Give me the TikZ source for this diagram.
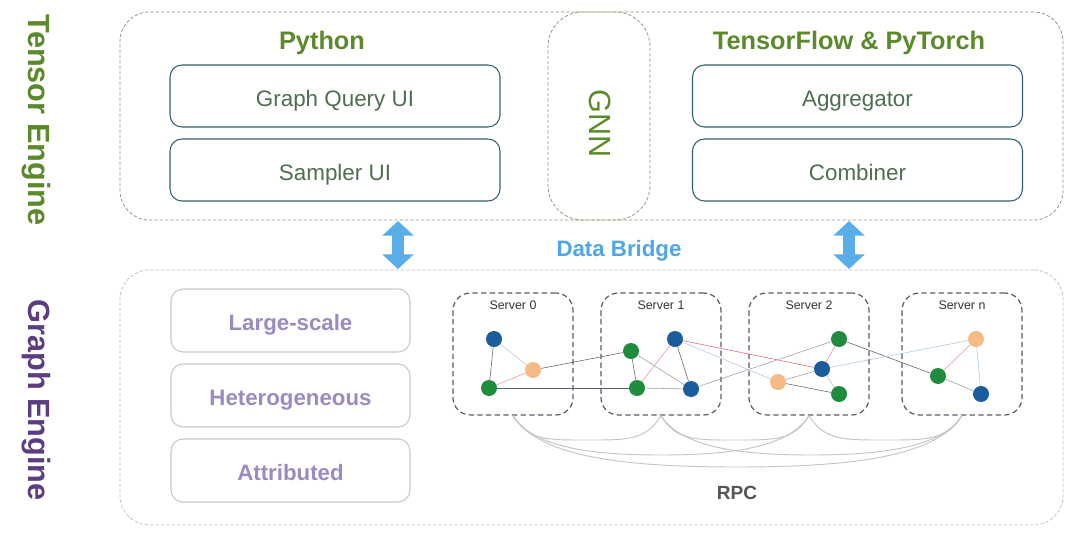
\documentclass[tikz,border=0pt]{standalone}
\usepackage{fontspec}
\setmainfont{Liberation Sans}
\usetikzlibrary{backgrounds,arrows.meta}
\definecolor{tgreen}{HTML}{5B8A2A}
\definecolor{boxteal}{HTML}{2F5F6E}
\definecolor{uitext}{HTML}{4F6E50}
\definecolor{tdash}{HTML}{8E9C80}
\definecolor{gdash}{HTML}{C4BCD8}
\definecolor{gpurple}{HTML}{5B3D80}
\definecolor{lpurple}{HTML}{9C8AC2}
\definecolor{lgrey}{HTML}{C8C8C8}
\definecolor{bridge}{HTML}{4EA5EC}
\definecolor{arrowblue}{HTML}{5AAEE8}
\definecolor{nblue}{HTML}{1B5C9C}
\definecolor{ngreen}{HTML}{1E8C3C}
\definecolor{norange}{HTML}{F6BA84}
\definecolor{edark}{HTML}{5A5A6A}
\definecolor{egrey}{HTML}{9A9AA4}
\definecolor{epink}{HTML}{E09098}
\definecolor{ered}{HTML}{E06070}
\definecolor{elblue}{HTML}{A8C4DC}
\definecolor{rpcgrey}{HTML}{C4C4C4}
\definecolor{rpctext}{HTML}{555555}
\tikzset{
  outerbox/.style={draw=#1, dashed, dash pattern=on 2.5pt off 1.5pt, line width=0.6pt, rounded corners=22pt, minimum width=707.25pt, inner sep=0pt},
  uibox/.style={draw=boxteal, line width=0.8pt, rounded corners=9pt, minimum width=247.5pt, minimum height=46.5pt, text=uitext, font=\fontsize{16.8}{20}\selectfont, text height=15.6pt, text depth=0pt},
  featbox/.style={draw=lgrey, line width=0.8pt, rounded corners=9pt, minimum width=179.25pt, minimum height=47.25pt, text=lpurple, font=\bfseries\fontsize{16.7}{20}\selectfont, text height=15.6pt, text depth=0pt},
  serverbox/.style={draw=edark, dashed, dash pattern=on 4pt off 2.5pt, line width=0.9pt, rounded corners=13pt, minimum width=90pt, minimum height=91.5pt},
  srvlabel/.style={font=\fontsize{9.3}{11}\selectfont, text=black!80},
  vtx/.style={circle, fill=#1, minimum size=12pt, inner sep=0pt},
  heading/.style={font=\bfseries\fontsize{19}{22}\selectfont, text=tgreen, text height=13.7pt, text depth=0pt},
  vlabel/.style={rotate=-90, font=\bfseries\fontsize{23}{27}\selectfont},
  rpc/.style={draw=rpcgrey, line width=0.7pt},
}
\begin{document}
\begin{tikzpicture}[x=0.75pt,y=-0.75pt]
\useasboundingbox (0,0) rectangle (1080,535);

% Tensor engine
\node[outerbox=tdash, minimum height=156pt] (tensor) at (591.5,116) {};
\node[draw=tdash, dashed, dash pattern=on 2.5pt off 1.5pt, line width=0.6pt, rounded corners=26pt, minimum width=76.5pt, minimum height=156pt] (gnnbox) at (599,116) {};
\node[rotate=-90, font=\fontsize{23}{27}\selectfont, text=tgreen] (gnn) at (600,123.5) {GNN};
\node[vlabel, text=tgreen] (tlabel) at (36,120) {Tensor Engine};
\node[heading] (python) at (322,40) {Python};
\node[heading] (tfpt) at (849,40) {TensorFlow \& PyTorch};
\node[uibox] (gq) at (335,96) {Graph Query UI};
\node[uibox] (samp) at (335,170) {Sampler UI};
\node[uibox] (agg) at (857.5,96) {Aggregator};
\node[uibox] (comb) at (857.5,170) {Combiner};

% Data bridge
\coordinate (b1t) at (398,221);
\coordinate (b1b) at (398,269);
\coordinate (b2t) at (849,221);
\coordinate (b2b) at (849,269);
\draw[arrowblue, line width=9pt, {Triangle[width=23pt,length=11pt]}-{Triangle[width=23pt,length=11pt]}] (b1t) -- (b1b);
\draw[arrowblue, line width=9pt, {Triangle[width=23pt,length=11pt]}-{Triangle[width=23pt,length=11pt]}] (b2t) -- (b2b);
\node[font=\bfseries\fontsize{16.7}{20}\selectfont, text=bridge, text height=12pt, text depth=0pt] (db) at (619,248) {Data Bridge};

% Graph engine
\node[outerbox=gdash, minimum height=191.25pt] (graph) at (591.5,397.5) {};
\node[vlabel, text=gpurple] (glabel) at (36,400) {Graph Engine};
\node[featbox] (ls) at (290.5,320.5) {Large-scale};
\node[featbox] (het) at (290.5,395.5) {Heterogeneous};
\node[featbox] (attr) at (290.5,470.5) {Attributed};

% Servers
\node[serverbox] (s0) at (513,354) {};
\node[serverbox] (s1) at (661,354) {};
\node[serverbox] (s2) at (809,354) {};
\node[serverbox] (sn) at (962,354) {};
\node[srvlabel] at (513,305) {Server 0};
\node[srvlabel] at (661,305) {Server 1};
\node[srvlabel] at (809,305) {Server 2};
\node[srvlabel] at (962,305) {Server n};

% vertices
\node[vtx=nblue] (a1) at (494,339) {};
\node[vtx=norange] (a2) at (533,370) {};
\node[vtx=ngreen] (a3) at (489,388) {};
\node[vtx=ngreen] (b1) at (631,351) {};
\node[vtx=nblue] (b2) at (675,339) {};
\node[vtx=ngreen] (b3) at (637,388) {};
\node[vtx=nblue] (b4) at (691,389) {};
\node[vtx=ngreen] (c1) at (839,339) {};
\node[vtx=nblue] (c2) at (822,369) {};
\node[vtx=norange] (c3) at (778,382) {};
\node[vtx=ngreen] (c4) at (839,394) {};
\node[vtx=norange] (d1) at (976,339) {};
\node[vtx=ngreen] (d2) at (938,376) {};
\node[vtx=nblue] (d3) at (981,394) {};

\begin{scope}[on background layer, line width=0.7pt]
\draw[edark] (a1) -- (a3);
\draw[elblue] (a1) -- (a2);
\draw[epink] (a2) -- (a3);
\draw[edark] (a3) -- (b3);
\draw[edark] (a2) -- (b1);
\draw[edark] (b1) -- (b3);
\draw[egrey] (b1) -- (b4);
\draw[epink] (b2) -- (b3);
\draw[edark] (b2) -- (b4);
\draw[egrey] (b3) -- (b4);
\draw[ered] (b2) -- (c2);
\draw[elblue] (b2) -- (c3);
\draw[egrey] (b4) -- (c1);
\draw[egrey] (c3) -- (c2);
\draw[edark] (c3) -- (c4);
\draw[epink] (c2) -- (c1);
\draw[elblue] (c2) -- (c4);
\draw[edark] (c1) -- (d2);
\draw[elblue] (c2) -- (d1);
\draw[epink] (d1) -- (d2);
\draw[elblue] (d1) -- (d3);
\draw[egrey] (d2) -- (d3);
\end{scope}

% RPC arcs
\draw[rpc] (s0.south) .. controls +(15,25) and +(-40,0) .. (587,440) .. controls +(40,0) and +(-15,25) .. (s1.south);
\draw[rpc] (s1.south) .. controls +(15,25) and +(-40,0) .. (735,440) .. controls +(40,0) and +(-15,25) .. (s2.south);
\draw[rpc] (s2.south) .. controls +(15,25) and +(-40,0) .. (885,440) .. controls +(40,0) and +(-15,25) .. (sn.south);
\draw[rpc] (s0.south) .. controls +(20,32) and +(-70,0) .. (661,455) .. controls +(70,0) and +(-20,32) .. (s2.south);
\draw[rpc] (s1.south) .. controls +(20,32) and +(-70,0) .. (811,455) .. controls +(70,0) and +(-20,32) .. (sn.south);
\draw[rpc] (s0.south) .. controls +(25,40) and +(-120,0) .. (737,467) .. controls +(120,0) and +(-25,40) .. (sn.south);
\node[font=\bfseries\fontsize{14.3}{17}\selectfont, text=rpctext, text height=10.3pt, text depth=0pt] (rpc) at (737,493) {RPC};
\end{tikzpicture}
\end{document}
